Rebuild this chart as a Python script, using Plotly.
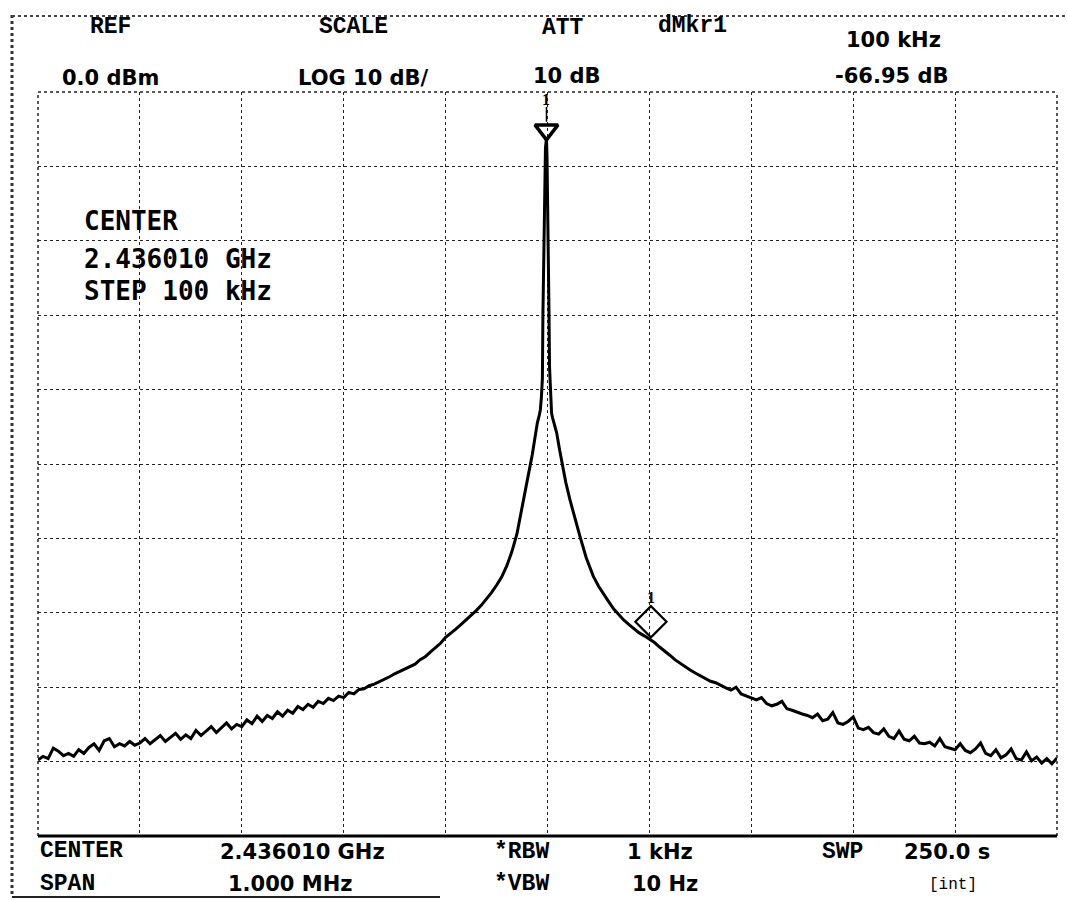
import plotly.graph_objects as go

# ---------------- data (offset from centre, kHz ; level, dBm) ----------------
left_wing_khz = list(range(-500, -145, 5))
left_wing_dbm = [
    -89.8, -89.3, -89.6, -88.2, -88.6, -89.2, -88.9, -89.3, -88.4, -88.9,
    -88.1, -87.6, -88.5, -87.2, -86.9, -88.0, -87.6, -87.9, -87.3, -87.8,
    -87.5, -86.9, -87.6, -87.1, -86.5, -87.3, -86.8, -86.2, -87.0, -86.4,
    -86.9, -85.8, -86.5, -85.9, -85.3, -86.1, -85.4, -84.8, -85.6, -85.0,
    -85.3, -84.4, -84.9, -83.9, -84.6, -83.8, -84.2, -83.3, -83.9, -83.1,
    -83.5, -82.6, -83.0, -82.3, -82.7, -81.9, -82.2, -81.5, -81.8, -81.2,
    -81.4, -80.7, -80.9, -80.3, -80.2, -79.8, -79.6, -79.3, -78.9, -78.6,
    -78.2,
]

skirt_khz = [-145, -140, -135, -130, -125, -120, -115, -110, -105, -100,
             -95, -90, -85, -80, -75, -70, -65, -60, -55, -50,
             -45, -40, -35, -30, -25, -20, -15, -12, -10, -8, -7,
             -6, -5, -4.5, -4, -3, -2.5, -2, -1.5, -1, -0.5,
             0, 0.5, 1, 1.5, 2, 3, 4,
             5, 7, 9, 12, 14, 18, 22, 27, 32, 38, 45, 50, 55, 60, 65, 70,
             75, 80, 85, 90, 95, 100, 105, 110, 115, 120, 125, 130, 135,
             140, 145, 150]
skirt_dbm = [-77.9, -77.6, -77.2, -76.9, -76.3, -75.9, -75.3, -74.7, -74.1, -73.3,
             -72.8, -72.2, -71.6, -71.0, -70.4, -69.7, -69.0, -68.2, -67.3, -66.3,
             -65.2, -63.7, -61.8, -59.4, -55.6, -52.3, -48.8, -45.8, -44.5, -43.4, -42.7,
             -41.0, -38.5, -30.0, -23.5, -18.0, -12.0, -7.5, -6.2, -6.2, -8.5,
             -12.5, -19.0, -23.5, -30.0, -37.0, -40.5, -43.2,
             -43.8, -44.8, -45.8, -48.2, -49.8, -52.5, -54.8, -57.5, -59.8, -62.6,
             -65.1, -66.4, -67.5, -68.5, -69.5, -70.3,
             -71.0, -71.6, -72.2, -72.7, -73.1, -73.5, -74.0, -74.6, -75.1, -75.7,
             -76.3, -76.8, -77.2, -77.7, -78.1, -78.5]

right_wing_khz = list(range(155, 505, 5))
right_wing_dbm = [
    -78.8, -79.2, -79.4, -79.8, -80.1, -80.4, -80.0, -80.9, -81.2, -81.5,
    -81.7, -81.4, -82.2, -82.5, -82.3, -81.9, -82.9, -83.1, -83.4, -83.6,
    -83.8, -84.1, -83.6, -84.5, -84.3, -83.4, -84.8, -85.0, -84.6, -84.0,
    -85.5, -85.7, -85.4, -86.1, -86.3, -85.6, -86.6, -86.9, -85.9, -87.0,
    -87.2, -86.6, -87.5, -87.6, -87.4, -87.9, -86.9, -88.0, -88.2, -88.4,
    -87.6, -88.5, -88.8, -88.3, -87.5, -88.9, -89.2, -88.4, -89.5, -89.1,
    -88.3, -89.6, -89.8, -88.7, -89.9, -89.4, -90.2, -89.6, -90.3, -89.5,
]

freq_khz = left_wing_khz + skirt_khz + right_wing_khz
level_dbm = left_wing_dbm + skirt_dbm + right_wing_dbm

peak_marker_khz = [-1.0]
peak_marker_dbm = [-5.1]
delta_marker_khz = [101.5]
delta_marker_dbm = [-71.2]

x_ticks = list(range(-500, 501, 100))
y_ticks = list(range(-100, 1, 10))

# ---------------- layout helpers (pixel -> paper) ----------------
PL, PR, PT, PB = 38, 1057, 92, 836


def px(x):
    return (x - PL) / (PR - PL)


def py(y):
    return (PB - y) / (PB - PT)


fig = go.Figure()
fig.add_trace(go.Scatter(x=freq_khz, y=level_dbm, mode="lines",
                         line=dict(color="black", width=3), hoverinfo="skip"))
fig.add_trace(go.Scatter(x=peak_marker_khz, y=peak_marker_dbm, mode="markers",
                         marker=dict(symbol="triangle-down-open", size=20,
                                     line=dict(color="black", width=3.5), color="black")))
fig.add_trace(go.Scatter(x=delta_marker_khz, y=delta_marker_dbm, mode="markers",
                         marker=dict(symbol="diamond-open", size=24,
                                     line=dict(color="black", width=2.2), color="black")))

HEAD = dict(family="Liberation Mono, DejaVu Sans Mono, monospace", size=23, color="black")
VAL = dict(family="DejaVu Sans, Liberation Sans, sans-serif", size=21, color="black")
BIG = dict(family="DejaVu Sans Mono, Liberation Mono, monospace", size=26, color="black")

ann = []


def label(text, x, y, font, xanchor="center"):
    ann.append(dict(text=text, x=px(x), y=py(y), xref="paper", yref="paper",
                    showarrow=False, font=font, xanchor=xanchor, yanchor="middle"))


label("<b>REF</b>", 110, 27, HEAD)
label("<b>SCALE</b>", 353, 27, HEAD)
label("<b>ATT</b>", 563, 28, HEAD)
label("<b>dMkr1</b>", 692, 26, HEAD)
label("<b>0.0 dBm</b>", 110, 78, VAL)
label("<b>LOG 10 dB/</b>", 363, 78, VAL)
label("<b>10 dB</b>", 567, 76, VAL)
label("<b>100 kHz</b>", 893, 40, VAL)
label("<b>-66.95 dB</b>", 892, 76, VAL)

label("<b>CENTER</b>", 38, 851, HEAD, "left")
label("<b>SPAN</b>", 38, 884, HEAD, "left")
label("<b>2.436010 GHz</b>", 302, 852, VAL)
label("<b>1.000 MHz</b>", 290, 884, VAL)
label("<b>*RBW</b>", 521, 852, HEAD)
label("<b>*VBW</b>", 521, 884, HEAD)
label("<b>1 kHz</b>", 660, 852, VAL)
label("<b>10 Hz</b>", 665, 884, VAL)
label("<b>SWP</b>", 842, 852, HEAD)
label("<b>250.0 s</b>", 947, 852, VAL)
label("[int]", 953, 885, dict(family="Liberation Mono, monospace", size=16, color="black"))

label("<b>CENTER</b>", 82, 221, BIG, "left")
label("<b>2.436010 GHz</b>", 82, 259, BIG, "left")
label("<b>STEP 100 kHz</b>", 82, 291, BIG, "left")

# marker numbers
ann.append(dict(text="<b>1</b>", x=peak_marker_khz[0], y=-1.0, xref="x", yref="y",
                showarrow=False, font=dict(family="Liberation Serif", size=16, color="black")))
ann.append(dict(text="<b>1</b>", x=delta_marker_khz[0], y=-68.0, xref="x", yref="y",
                showarrow=False, font=dict(family="Liberation Serif", size=16, color="black")))

edge = dict(color="#222", width=1.5, dash="dot")
shapes = [
    # graticule edges
    dict(type="line", xref="paper", yref="paper", x0=0, x1=1, y0=1, y1=1, line=edge),
    dict(type="line", xref="paper", yref="paper", x0=0, x1=0, y0=0, y1=1, line=edge),
    dict(type="line", xref="paper", yref="paper", x0=1, x1=1, y0=0, y1=1, line=edge),
    dict(type="line", xref="paper", yref="paper", x0=0, x1=1, y0=0, y1=0,
         line=dict(color="black", width=3)),
    # outer frame of the screen
    dict(type="line", xref="paper", yref="paper", x0=px(12), x1=px(12), y0=py(15), y1=py(897),
         line=dict(color="#333", width=3, dash="dot")),
    dict(type="line", xref="paper", yref="paper", x0=px(12), x1=px(1067), y0=py(16), y1=py(16),
         line=dict(color="#444", width=2, dash="dot")),
    dict(type="line", xref="paper", yref="paper", x0=px(12), x1=px(440), y0=py(897), y1=py(897),
         line=dict(color="#222", width=2)),
    # marker stem
    dict(type="line", xref="x", yref="y", x0=peak_marker_khz[0], x1=peak_marker_khz[0],
         y0=-2.0, y1=-4.0, line=dict(color="black", width=1.5)),
]

axis_common = dict(showticklabels=False, ticks="", showline=False, zeroline=False,
                   showgrid=True, gridcolor="#222", gridwidth=1, griddash="dot")

fig.update_layout(
    width=1067, height=900,
    margin=dict(l=PL, r=1067 - PR, t=PT, b=900 - PB),
    paper_bgcolor="white", plot_bgcolor="white",
    showlegend=False,
    xaxis=dict(range=[-500, 500], tickvals=x_ticks, **axis_common),
    yaxis=dict(range=[-100, 0], tickvals=y_ticks, **axis_common),
    annotations=ann, shapes=shapes,
)

fig.write_html("out.html")
